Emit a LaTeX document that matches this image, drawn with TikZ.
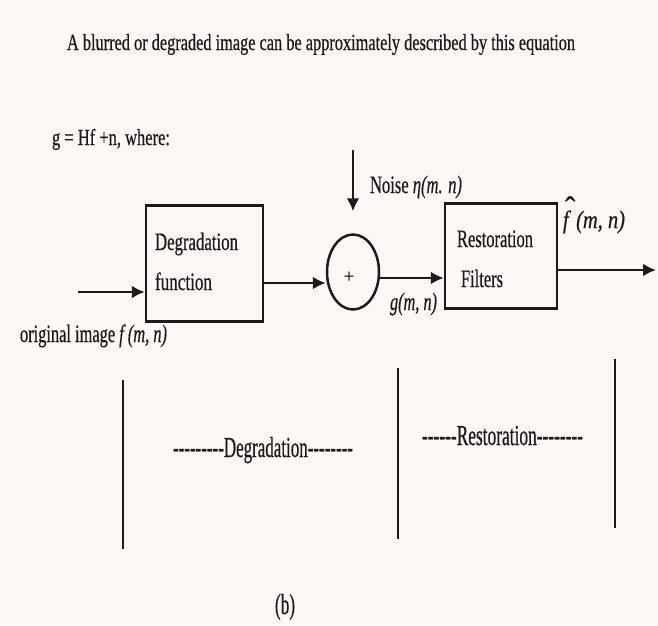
\documentclass[tikz,border=0pt]{standalone}
\usepackage{fontspec}
\setmainfont{Liberation Serif}[FakeBold=0.7]
\usepackage{graphicx}
\usetikzlibrary{arrows.meta,shapes.geometric}
\definecolor{bg}{RGB}{251,248,245}
\definecolor{ink}{RGB}{30,26,26}
\newsavebox\fitbox
\newdimen\fitdim
\newcommand\fitw[2]{\sbox\fitbox{#2}\fitdim=\wd\fitbox\pgfmathsetmacro\fitratio{#1/\fitdim}\scalebox{\fitratio}[1]{\usebox\fitbox}}
\newcommand\hy{-\kern0pt}
\newcommand\hatf{\makebox[0pt][l]{\hspace{0.1em}\raisebox{0.36em}{\scalebox{1.5}[1.3]{\char"02C6}}}\textit{f}}
\begin{document}
\begin{tikzpicture}[x=1pt,y=-1pt,
  txt/.style={inner sep=0pt, outer sep=0pt, text=ink, anchor=base west},
  big/.style={font=\fontsize{25}{25}\selectfont},
  mid/.style={font=\fontsize{23}{23}\selectfont},
  huge/.style={font=\fontsize{29}{29}\selectfont},
  blk/.style={draw=ink, line width=2.5pt, rectangle, inner sep=0pt},
  arr/.style={draw=ink, line width=2.6pt, -{Latex[length=13pt,width=13pt]}},
  sep/.style={draw=ink, line width=2pt}]
\fill[bg] (0,0) rectangle (658,625);
\useasboundingbox (0,0) rectangle (658,625);
% texts
\node[txt,mid] (title) at (67,50) {\fitw{508}{A blurred or degraded image can be approximately described by this equation}};
\node[txt,mid] (eq) at (52,145) {\fitw{118}{g = Hf +n, where:}};
% blocks
\node[blk, minimum width=117pt, minimum height=116pt] (deg) at (204.5,263.5) {};
\node[blk, minimum width=112pt, minimum height=105pt] (res) at (501,256) {};
\node[draw=ink, line width=2.5pt, ellipse, minimum width=52pt, minimum height=75pt, inner sep=0pt] (sum) at (353,272) {};
\node[inner sep=0pt, text=ink, font=\fontsize{19}{19}\selectfont] (plus) at (349,277) {+};
\node[txt,big] (dega) at (155,250) {\fitw{83}{Degradation}};
\node[txt,big] (degb) at (155,290) {\fitw{57}{function}};
\node[txt,big] (resa) at (457,247) {\fitw{76}{Restoration}};
\node[txt,big] (resb) at (461,287) {\fitw{42}{Filters}};
\node[txt,big] (noise) at (370,193) {\fitw{92}{Noise \textit{η(m. n)}}};
\node[txt,big] (gmn) at (390,310) {\fitw{47}{\textit{g(m, n)}}};
\node[txt,big] (fhat) at (563,228) {\fitw{62}{\hatf\textit{ (m, n)}}};
\node[txt,big] (orig) at (20,342) {\fitw{147}{original image \textit{f (m, n)}}};
\node[txt,huge] (dlab) at (173,457) {\fitw{180}{\hy\hy\hy\hy\hy\hy\hy\hy\hy Degradation\hy\hy\hy\hy\hy\hy\hy\hy}};
\node[txt,huge] (rlab) at (422,445) {\fitw{161}{\hy\hy\hy\hy\hy\hy Restoration\hy\hy\hy\hy\hy\hy\hy\hy}};
\node[txt,huge] (blab) at (275,614) {\fitw{20}{(b)}};
% connectors
\coordinate (in) at (78,292);
\coordinate (nz) at (353,150);
\coordinate (out) at (656,270);
\draw[arr] (in) -- (in -| deg.west);
\draw[arr] (deg.east |- 0,283) -- (sum.west |- 0,283);
\draw[arr] (sum.east |- 0,278) -- (res.west |- 0,278);
\draw[arr] (res.east |- out) -- (out);
\draw[arr, shorten >=22pt] (nz) -- (sum.north);
% separators
\coordinate (s1a) at (123,380); \coordinate (s1b) at (123,549);
\coordinate (s2a) at (398,368); \coordinate (s2b) at (398,539);
\coordinate (s3a) at (615,359); \coordinate (s3b) at (615,528);
\draw[sep] (s1a) -- (s1b);
\draw[sep] (s2a) -- (s2b);
\draw[sep] (s3a) -- (s3b);
\end{tikzpicture}
\end{document}
